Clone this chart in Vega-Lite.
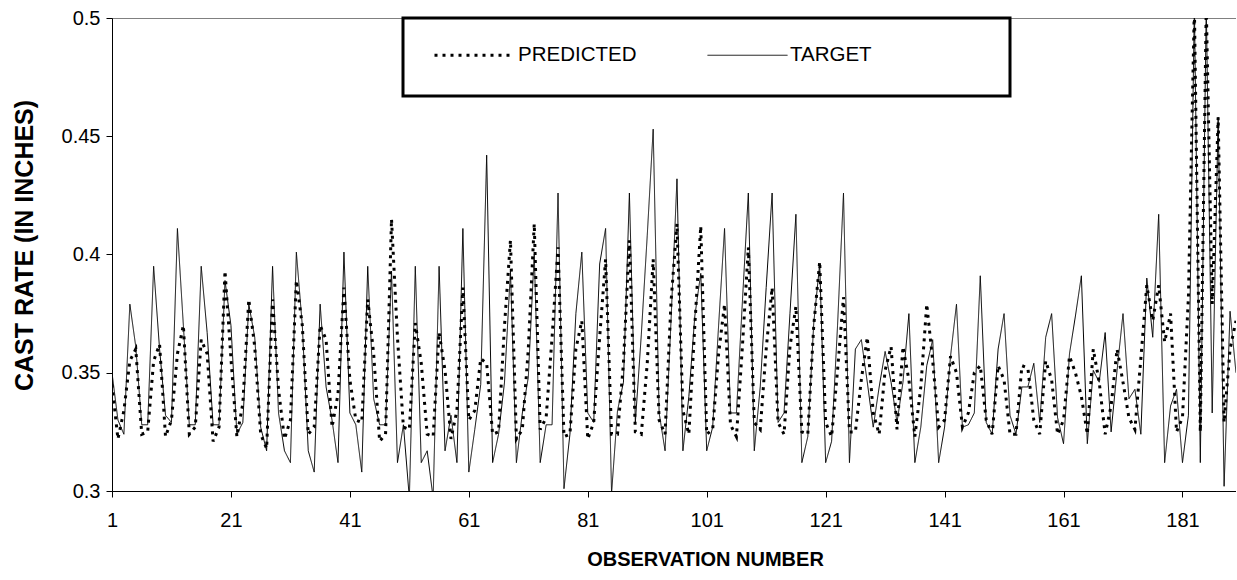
{
  "$schema": "https://vega.github.io/schema/vega-lite/v6.json",
  "width": 1124,
  "height": 473,
  "autosize": {"type": "none"},
  "padding": {"left": 112, "top": 18, "right": 0, "bottom": 89},
  "background": "white",
  "config": {
    "font": "Liberation Sans",
    "view": {"stroke": "#808080", "strokeWidth": 1}
  },
  "data": {
    "values": [
      {"obs":1,"PREDICTED":0.345,"TARGET":0.350},{"obs":2,"PREDICTED":0.322,"TARGET":0.330},{"obs":3,"PREDICTED":0.334,"TARGET":0.324},{"obs":4,"PREDICTED":0.355,"TARGET":0.379},{"obs":5,"PREDICTED":0.360,"TARGET":0.361},
      {"obs":6,"PREDICTED":0.324,"TARGET":0.328},{"obs":7,"PREDICTED":0.325,"TARGET":0.328},{"obs":8,"PREDICTED":0.355,"TARGET":0.395},{"obs":9,"PREDICTED":0.362,"TARGET":0.360},{"obs":10,"PREDICTED":0.323,"TARGET":0.332},
      {"obs":11,"PREDICTED":0.330,"TARGET":0.329},{"obs":12,"PREDICTED":0.358,"TARGET":0.411},{"obs":13,"PREDICTED":0.370,"TARGET":0.370},{"obs":14,"PREDICTED":0.324,"TARGET":0.328},{"obs":15,"PREDICTED":0.327,"TARGET":0.328},
      {"obs":16,"PREDICTED":0.364,"TARGET":0.395},{"obs":17,"PREDICTED":0.358,"TARGET":0.367},{"obs":18,"PREDICTED":0.321,"TARGET":0.328},{"obs":19,"PREDICTED":0.327,"TARGET":0.328},{"obs":20,"PREDICTED":0.393,"TARGET":0.389},
      {"obs":21,"PREDICTED":0.356,"TARGET":0.370},{"obs":22,"PREDICTED":0.323,"TARGET":0.324},{"obs":23,"PREDICTED":0.337,"TARGET":0.329},{"obs":24,"PREDICTED":0.381,"TARGET":0.379},{"obs":25,"PREDICTED":0.361,"TARGET":0.365},
      {"obs":26,"PREDICTED":0.324,"TARGET":0.327},{"obs":27,"PREDICTED":0.318,"TARGET":0.317},{"obs":28,"PREDICTED":0.381,"TARGET":0.395},{"obs":29,"PREDICTED":0.343,"TARGET":0.333},{"obs":30,"PREDICTED":0.322,"TARGET":0.317},
      {"obs":31,"PREDICTED":0.330,"TARGET":0.312},{"obs":32,"PREDICTED":0.389,"TARGET":0.401},{"obs":33,"PREDICTED":0.370,"TARGET":0.370},{"obs":34,"PREDICTED":0.324,"TARGET":0.317},{"obs":35,"PREDICTED":0.327,"TARGET":0.308},
      {"obs":36,"PREDICTED":0.370,"TARGET":0.379},{"obs":37,"PREDICTED":0.364,"TARGET":0.344},{"obs":38,"PREDICTED":0.327,"TARGET":0.330},{"obs":39,"PREDICTED":0.341,"TARGET":0.312},{"obs":40,"PREDICTED":0.386,"TARGET":0.401},
      {"obs":41,"PREDICTED":0.347,"TARGET":0.333},{"obs":42,"PREDICTED":0.330,"TARGET":0.328},{"obs":43,"PREDICTED":0.329,"TARGET":0.308},{"obs":44,"PREDICTED":0.381,"TARGET":0.395},{"obs":45,"PREDICTED":0.358,"TARGET":0.339},
      {"obs":46,"PREDICTED":0.321,"TARGET":0.328},{"obs":47,"PREDICTED":0.324,"TARGET":0.328},{"obs":48,"PREDICTED":0.415,"TARGET":0.393},{"obs":49,"PREDICTED":0.365,"TARGET":0.312},{"obs":50,"PREDICTED":0.327,"TARGET":0.328},
      {"obs":51,"PREDICTED":0.326,"TARGET":0.297},{"obs":52,"PREDICTED":0.371,"TARGET":0.395},{"obs":53,"PREDICTED":0.354,"TARGET":0.312},{"obs":54,"PREDICTED":0.324,"TARGET":0.317},{"obs":55,"PREDICTED":0.323,"TARGET":0.297},
      {"obs":56,"PREDICTED":0.367,"TARGET":0.395},{"obs":57,"PREDICTED":0.351,"TARGET":0.317},{"obs":58,"PREDICTED":0.322,"TARGET":0.332},{"obs":59,"PREDICTED":0.334,"TARGET":0.312},{"obs":60,"PREDICTED":0.386,"TARGET":0.411},
      {"obs":61,"PREDICTED":0.330,"TARGET":0.308},{"obs":62,"PREDICTED":0.334,"TARGET":0.326},{"obs":63,"PREDICTED":0.356,"TARGET":0.345},{"obs":64,"PREDICTED":0.354,"TARGET":0.442},{"obs":65,"PREDICTED":0.324,"TARGET":0.312},
      {"obs":66,"PREDICTED":0.325,"TARGET":0.324},{"obs":67,"PREDICTED":0.370,"TARGET":0.346},{"obs":68,"PREDICTED":0.406,"TARGET":0.393},{"obs":69,"PREDICTED":0.322,"TARGET":0.312},{"obs":70,"PREDICTED":0.326,"TARGET":0.333},
      {"obs":71,"PREDICTED":0.360,"TARGET":0.348},{"obs":72,"PREDICTED":0.413,"TARGET":0.400},{"obs":73,"PREDICTED":0.326,"TARGET":0.312},{"obs":74,"PREDICTED":0.331,"TARGET":0.328},{"obs":75,"PREDICTED":0.365,"TARGET":0.328},
      {"obs":76,"PREDICTED":0.403,"TARGET":0.426},{"obs":77,"PREDICTED":0.323,"TARGET":0.301},{"obs":78,"PREDICTED":0.324,"TARGET":0.324},{"obs":79,"PREDICTED":0.360,"TARGET":0.375},{"obs":80,"PREDICTED":0.372,"TARGET":0.401},
      {"obs":81,"PREDICTED":0.322,"TARGET":0.333},{"obs":82,"PREDICTED":0.329,"TARGET":0.329},{"obs":83,"PREDICTED":0.365,"TARGET":0.396},{"obs":84,"PREDICTED":0.398,"TARGET":0.411},{"obs":85,"PREDICTED":0.324,"TARGET":0.299},
      {"obs":86,"PREDICTED":0.324,"TARGET":0.334},{"obs":87,"PREDICTED":0.354,"TARGET":0.346},{"obs":88,"PREDICTED":0.406,"TARGET":0.426},{"obs":89,"PREDICTED":0.325,"TARGET":0.329},{"obs":90,"PREDICTED":0.324,"TARGET":0.366},
      {"obs":91,"PREDICTED":0.354,"TARGET":0.408},{"obs":92,"PREDICTED":0.398,"TARGET":0.453},{"obs":93,"PREDICTED":0.330,"TARGET":0.333},{"obs":94,"PREDICTED":0.324,"TARGET":0.317},{"obs":95,"PREDICTED":0.380,"TARGET":0.372},
      {"obs":96,"PREDICTED":0.413,"TARGET":0.432},{"obs":97,"PREDICTED":0.334,"TARGET":0.317},{"obs":98,"PREDICTED":0.324,"TARGET":0.340},{"obs":99,"PREDICTED":0.370,"TARGET":0.374},{"obs":100,"PREDICTED":0.412,"TARGET":0.392},
      {"obs":101,"PREDICTED":0.324,"TARGET":0.317},{"obs":102,"PREDICTED":0.326,"TARGET":0.327},{"obs":103,"PREDICTED":0.358,"TARGET":0.370},{"obs":104,"PREDICTED":0.379,"TARGET":0.411},{"obs":105,"PREDICTED":0.328,"TARGET":0.333},
      {"obs":106,"PREDICTED":0.323,"TARGET":0.333},{"obs":107,"PREDICTED":0.361,"TARGET":0.380},{"obs":108,"PREDICTED":0.403,"TARGET":0.426},{"obs":109,"PREDICTED":0.329,"TARGET":0.317},{"obs":110,"PREDICTED":0.326,"TARGET":0.344},
      {"obs":111,"PREDICTED":0.360,"TARGET":0.386},{"obs":112,"PREDICTED":0.386,"TARGET":0.426},{"obs":113,"PREDICTED":0.329,"TARGET":0.329},{"obs":114,"PREDICTED":0.324,"TARGET":0.333},{"obs":115,"PREDICTED":0.361,"TARGET":0.375},
      {"obs":116,"PREDICTED":0.378,"TARGET":0.417},{"obs":117,"PREDICTED":0.325,"TARGET":0.312},{"obs":118,"PREDICTED":0.324,"TARGET":0.323},{"obs":119,"PREDICTED":0.370,"TARGET":0.371},{"obs":120,"PREDICTED":0.397,"TARGET":0.396},
      {"obs":121,"PREDICTED":0.329,"TARGET":0.312},{"obs":122,"PREDICTED":0.323,"TARGET":0.321},{"obs":123,"PREDICTED":0.351,"TARGET":0.370},{"obs":124,"PREDICTED":0.382,"TARGET":0.426},{"obs":125,"PREDICTED":0.325,"TARGET":0.312},
      {"obs":126,"PREDICTED":0.325,"TARGET":0.360},{"obs":127,"PREDICTED":0.347,"TARGET":0.364},{"obs":128,"PREDICTED":0.365,"TARGET":0.346},{"obs":129,"PREDICTED":0.333,"TARGET":0.327},{"obs":130,"PREDICTED":0.324,"TARGET":0.344},
      {"obs":131,"PREDICTED":0.351,"TARGET":0.359},{"obs":132,"PREDICTED":0.361,"TARGET":0.346},{"obs":133,"PREDICTED":0.326,"TARGET":0.329},{"obs":134,"PREDICTED":0.361,"TARGET":0.346},{"obs":135,"PREDICTED":0.347,"TARGET":0.375},
      {"obs":136,"PREDICTED":0.323,"TARGET":0.312},{"obs":137,"PREDICTED":0.344,"TARGET":0.327},{"obs":138,"PREDICTED":0.379,"TARGET":0.353},{"obs":139,"PREDICTED":0.355,"TARGET":0.364},{"obs":140,"PREDICTED":0.327,"TARGET":0.312},
      {"obs":141,"PREDICTED":0.330,"TARGET":0.327},{"obs":142,"PREDICTED":0.357,"TARGET":0.357},{"obs":143,"PREDICTED":0.350,"TARGET":0.379},{"obs":144,"PREDICTED":0.327,"TARGET":0.327},{"obs":145,"PREDICTED":0.333,"TARGET":0.328},
      {"obs":146,"PREDICTED":0.350,"TARGET":0.333},{"obs":147,"PREDICTED":0.353,"TARGET":0.391},{"obs":148,"PREDICTED":0.330,"TARGET":0.329},{"obs":149,"PREDICTED":0.324,"TARGET":0.324},{"obs":150,"PREDICTED":0.353,"TARGET":0.360},
      {"obs":151,"PREDICTED":0.347,"TARGET":0.375},{"obs":152,"PREDICTED":0.324,"TARGET":0.332},{"obs":153,"PREDICTED":0.324,"TARGET":0.324},{"obs":154,"PREDICTED":0.353,"TARGET":0.344},{"obs":155,"PREDICTED":0.352,"TARGET":0.344},
      {"obs":156,"PREDICTED":0.330,"TARGET":0.354},{"obs":157,"PREDICTED":0.324,"TARGET":0.329},{"obs":158,"PREDICTED":0.355,"TARGET":0.365},{"obs":159,"PREDICTED":0.347,"TARGET":0.375},{"obs":160,"PREDICTED":0.324,"TARGET":0.331},
      {"obs":161,"PREDICTED":0.330,"TARGET":0.320},{"obs":162,"PREDICTED":0.357,"TARGET":0.358},{"obs":163,"PREDICTED":0.350,"TARGET":0.374},{"obs":164,"PREDICTED":0.340,"TARGET":0.391},{"obs":165,"PREDICTED":0.324,"TARGET":0.320},
      {"obs":166,"PREDICTED":0.360,"TARGET":0.351},{"obs":167,"PREDICTED":0.346,"TARGET":0.346},{"obs":168,"PREDICTED":0.324,"TARGET":0.367},{"obs":169,"PREDICTED":0.336,"TARGET":0.325},{"obs":170,"PREDICTED":0.360,"TARGET":0.351},
      {"obs":171,"PREDICTED":0.346,"TARGET":0.375},{"obs":172,"PREDICTED":0.331,"TARGET":0.339},{"obs":173,"PREDICTED":0.326,"TARGET":0.343},{"obs":174,"PREDICTED":0.356,"TARGET":0.324},{"obs":175,"PREDICTED":0.387,"TARGET":0.390},
      {"obs":176,"PREDICTED":0.372,"TARGET":0.365},{"obs":177,"PREDICTED":0.387,"TARGET":0.417},{"obs":178,"PREDICTED":0.363,"TARGET":0.312},{"obs":179,"PREDICTED":0.375,"TARGET":0.336},{"obs":180,"PREDICTED":0.325,"TARGET":0.343},
      {"obs":181,"PREDICTED":0.331,"TARGET":0.312},{"obs":182,"PREDICTED":0.382,"TARGET":0.332},{"obs":183,"PREDICTED":0.505,"TARGET":0.505},{"obs":184,"PREDICTED":0.325,"TARGET":0.312},{"obs":185,"PREDICTED":0.505,"TARGET":0.505},
      {"obs":186,"PREDICTED":0.379,"TARGET":0.333},{"obs":187,"PREDICTED":0.458,"TARGET":0.458},{"obs":188,"PREDICTED":0.329,"TARGET":0.302},{"obs":189,"PREDICTED":0.360,"TARGET":0.376},{"obs":190,"PREDICTED":0.372,"TARGET":0.350}
    ]
  },
  "transform": [
    {"fold": ["PREDICTED", "TARGET"], "as": ["series", "value"]}
  ],
  "mark": {"type": "line", "clip": true, "color": "black", "strokeCap": "butt"},
  "encoding": {
    "x": {
      "field": "obs",
      "type": "quantitative",
      "scale": {"domain": [1, 190], "nice": false, "zero": false},
      "axis": {
        "values": [1, 21, 41, 61, 81, 101, 121, 141, 161, 181],
        "format": "d",
        "grid": false,
        "domainColor": "black",
        "tickColor": "black",
        "tickSize": 6,
        "labelFontSize": 20,
        "labelColor": "black",
        "labelPadding": 13,
        "labelFlush": false,
        "title": "OBSERVATION NUMBER",
        "titleFontSize": 20,
        "titleFontWeight": "bold",
        "titleColor": "black",
        "titleX": 593,
        "titleY": 68,
        "titleBaseline": "middle"
      }
    },
    "y": {
      "field": "value",
      "type": "quantitative",
      "scale": {"domain": [0.3, 0.5], "nice": false, "zero": false},
      "axis": {
        "values": [0.3, 0.35, 0.4, 0.45, 0.5],
        "format": "~g",
        "grid": false,
        "domainColor": "black",
        "tickColor": "black",
        "tickSize": 6,
        "labelFontSize": 20,
        "labelColor": "black",
        "labelPadding": 6,
        "labelFlush": false,
        "title": "CAST RATE (IN INCHES)",
        "titleFontSize": 25,
        "titleFontWeight": "bold",
        "titleColor": "black",
        "titleX": -88,
        "titleY": 227,
        "titleBaseline": "middle"
      }
    },
    "strokeDash": {
      "field": "series",
      "type": "nominal",
      "scale": {"domain": ["PREDICTED", "TARGET"], "range": [[3, 5], [1, 0]]},
      "legend": {
        "orient": "none",
        "legendX": 291,
        "legendY": 0,
        "direction": "horizontal",
        "title": null,
        "symbolType": "stroke",
        "symbolSize": 6400,
        "symbolStrokeColor": "black",
        "clipHeight": 14,
        "labelFontSize": 20.5,
        "labelColor": "black",
        "labelOffset": 2,
        "labelLimit": 400,
        "columnPadding": 70,
        "padding": 30,
        "strokeColor": "black",
        "fillColor": "white",
        "labelExpr": "datum.label == 'TARGET' ? 'TARGET\u00a0\u00a0\u00a0\u00a0\u00a0\u00a0\u00a0\u00a0\u00a0\u00a0\u00a0\u00a0\u00a0\u00a0\u00a0\u00a0\u00a0\u00a0\u00a0\u200b' : datum.label",
        "encode": {
          "legend": {"update": {"strokeWidth": {"value": 3}}},
          "symbols": {"update": {
            "strokeDash": {"signal": "datum.value === 'PREDICTED' ? [5, 7.5] : [1, 0]"},
            "strokeWidth": {"signal": "datum.value === 'PREDICTED' ? 4.5 : 1"}
          }}
        }
      }
    },
    "strokeWidth": {
      "field": "series",
      "type": "nominal",
      "scale": {"domain": ["PREDICTED", "TARGET"], "range": [3, 1]},
      "legend": {
        "orient": "none",
        "legendX": 291,
        "legendY": 0,
        "direction": "horizontal",
        "title": null,
        "symbolType": "stroke",
        "symbolSize": 6400,
        "symbolStrokeColor": "black",
        "clipHeight": 14,
        "labelFontSize": 20.5,
        "labelColor": "black",
        "labelOffset": 2,
        "labelLimit": 400,
        "columnPadding": 70,
        "padding": 30,
        "strokeColor": "black",
        "fillColor": "white",
        "labelExpr": "datum.label == 'TARGET' ? 'TARGET\u00a0\u00a0\u00a0\u00a0\u00a0\u00a0\u00a0\u00a0\u00a0\u00a0\u00a0\u00a0\u00a0\u00a0\u00a0\u00a0\u00a0\u00a0\u00a0\u200b' : datum.label",
        "encode": {
          "legend": {"update": {"strokeWidth": {"value": 3}}},
          "symbols": {"update": {
            "strokeDash": {"signal": "datum.value === 'PREDICTED' ? [5, 7.5] : [1, 0]"},
            "strokeWidth": {"signal": "datum.value === 'PREDICTED' ? 4.5 : 1"}
          }}
        }
      }
    }
  }
}
